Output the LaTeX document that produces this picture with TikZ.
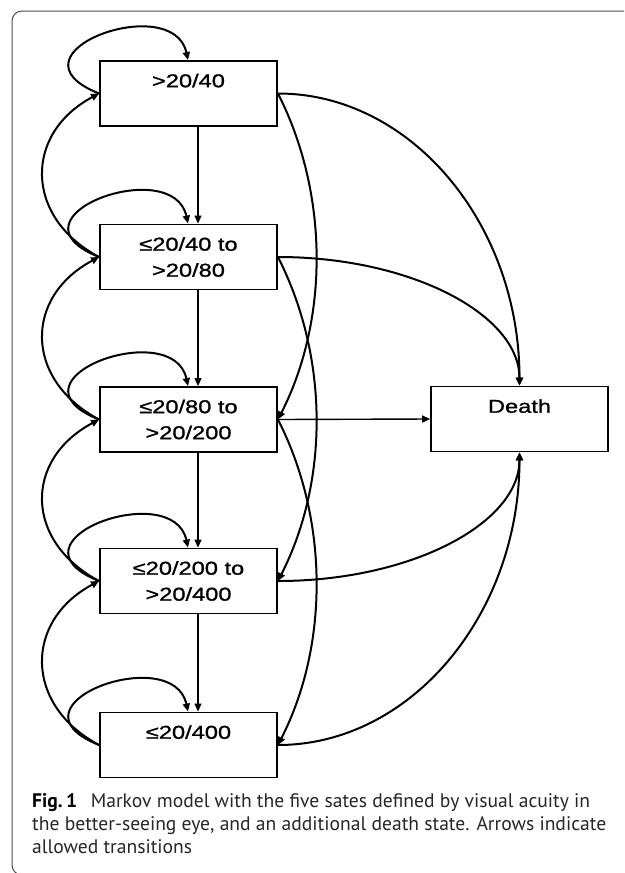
\documentclass[tikz,border=0pt]{standalone}
\usepackage{fontspec}
\setmainfont{Liberation Sans}
\newfontfamily\boxfont[FakeStretch=1.27,FakeBold=1.2]{Liberation Sans}
\newfontfamily\capfont{PT Sans}
\usetikzlibrary{arrows.meta,calc}

\begin{document}
\begin{tikzpicture}[x=1pt,y=-1pt,
  state/.style={draw, line width=1.9pt, minimum width=177pt, minimum height=65pt,
    inner sep=0pt, align=center, font=\boxfont\fontsize{18.6}{26}\selectfont},
  tip/.style={-{Triangle[length=8pt,width=7pt]}},
  link/.style={tip, line width=2pt},
  down/.style={tip, line width=1.4pt},
  captext/.style={anchor=base west, inner sep=0pt, text=black!85,
    font=\capfont\fontsize{19.6}{23}\selectfont}]
\useasboundingbox (0,0) rectangle (624,873);
\clip (0,0) rectangle (624,873);

% figure frame
\draw[black!70, line width=1pt, rounded corners=10pt] (12,11) rectangle (660,875);

% visual acuity states and the death state
\node[state] (s1) at (188.5,93.5) {>20/40\\\mbox{}};
\node[state] (s2) at (188.5,257) {≤20/40 to\\>20/80};
\node[state] (s3) at (188.5,419.5) {≤20/80 to\\>20/200};
\node[state] (s4) at (188.5,581) {≤20/200 to\\>20/400};
\node[state] (s5) at (188.5,745) {≤20/400\\\mbox{}};
\node[state, line width=1.7pt] (d) at (519.5,419) {Death\\\mbox{}};

% worsening by one state
\foreach \a/\b in {s1/s2,s2/s3,s3/s4,s4/s5}
  \draw[down] ([xshift=9.5pt]\a.south) -- ([xshift=9.5pt]\b.north);

% staying in the same state
\foreach \s in {s1,s2,s3,s4,s5}
  \draw[link] (\s.west) .. controls +(-100,-40) and +(-15,-70) .. ([xshift=-0.5pt]\s.north);

% improvement by one state
\foreach \a/\b in {s2/s1,s3/s2,s4/s3,s5/s4}
  \draw[link] (\a.west) .. controls +(-75,-40) and +(-75,40) .. (\b.west);

% worsening by two states
\foreach \a/\b in {s1/s3,s2/s4,s3/s5}
  \draw[link] (\a.east) .. controls +(51,100) and +(51,-100) .. (\b.east);

% transitions to death
\draw[link] (s1.east) .. controls +(133,0) and +(0,-162) .. (d.north);
\draw[link] (s2.east) .. controls +(133,0) and +(0,-71) .. (d.north);
\draw[down] (s3.east) -- (d.west);
\draw[link] (s4.east) .. controls +(133,0) and +(0,71) .. (d.south);
\draw[link] (s5.east) .. controls +(133,0) and +(0,162) .. (d.south);

% caption
\node[captext] (c1) at (32,807) {\textbf{\color{black}Fig.\,1}\hspace{0.7em}Markov model with the five sates defined by visual acuity in};
\node[captext] (c2) at (32,830) {the better-seeing eye, and an additional death state. Arrows indicate};
\node[captext] (c3) at (32,853) {allowed transitions};
\end{tikzpicture}
\end{document}
